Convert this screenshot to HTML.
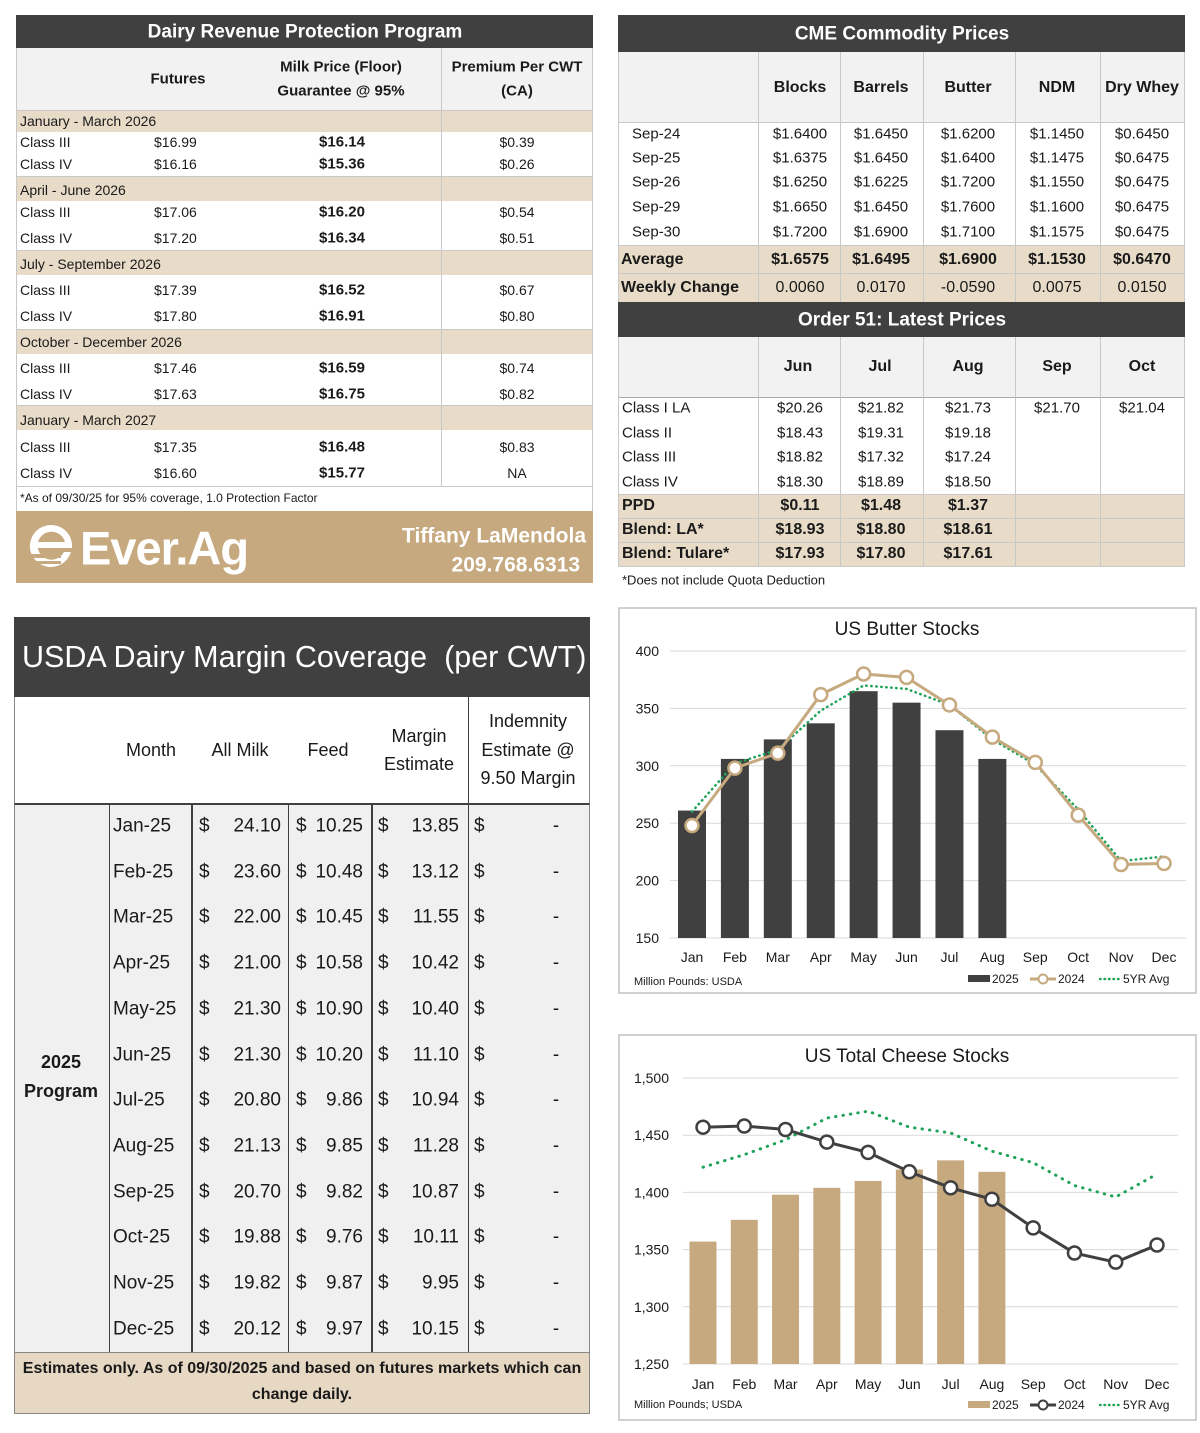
<!DOCTYPE html>
<html><head><meta charset="utf-8">
<style>
*{margin:0;padding:0;box-sizing:border-box}
body{width:1200px;height:1433px;background:#fff;position:relative;font-family:"Liberation Sans",Arial,sans-serif;color:#1a1a1a;overflow:hidden}
.a{position:absolute;white-space:nowrap;line-height:1}
.L{transform:translate(0,-50%)}
.C{transform:translate(-50%,-50%)}
.R{transform:translate(-100%,-50%)}
.box{position:absolute}
.b{font-weight:bold}
.f14{font-size:14px}
.f15{font-size:15px}
.f16{font-size:16px}
.f19{font-size:19px}
.hl{position:absolute;height:1px;background:#c8c8c8}
.vl{position:absolute;width:1px;background:#c8c8c8}
.dk{position:absolute;background:#404040}
</style></head><body>

<!-- ============ DRP PANEL ============ -->
<div>
<div class="box" style="left:16px;top:15px;width:577px;height:33px;background:#404040"></div>
<div class="a C f19 b" style="left:305px;top:32px;color:#fff">Dairy Revenue Protection Program</div>
<div class="box" style="left:16px;top:48px;width:577px;height:62px;background:#f2f2f2"></div>
<div class="a C f15 b" style="left:178px;top:79px">Futures</div>
<div class="a C f15 b" style="left:341px;top:67px">Milk Price (Floor)</div>
<div class="a C f15 b" style="left:341px;top:91px">Guarantee @ 95%</div>
<div class="a C f15 b" style="left:517px;top:67px">Premium Per CWT</div>
<div class="a C f15 b" style="left:517px;top:91px">(CA)</div>

<div class="box" style="left:16px;top:110px;width:577px;height:22px;background:#e8dcc9"></div>
<div class="box" style="left:16px;top:177px;width:577px;height:24px;background:#e8dcc9"></div>
<div class="box" style="left:16px;top:251px;width:577px;height:24px;background:#e8dcc9"></div>
<div class="box" style="left:16px;top:330px;width:577px;height:24px;background:#e8dcc9"></div>
<div class="box" style="left:16px;top:406px;width:577px;height:24px;background:#e8dcc9"></div>
<div class="hl" style="left:16px;top:110px;width:577px"></div>
<div class="hl" style="left:16px;top:176px;width:577px"></div>
<div class="hl" style="left:16px;top:250px;width:577px"></div>
<div class="hl" style="left:16px;top:329px;width:577px"></div>
<div class="hl" style="left:16px;top:405px;width:577px"></div>
<div class="hl" style="left:16px;top:486px;width:577px"></div>
<div class="vl" style="left:441px;top:48px;height:438px"></div>
<div class="vl" style="left:16px;top:48px;height:463px"></div>
<div class="vl" style="left:592px;top:48px;height:463px"></div>

<div class="a L f14" style="left:20px;top:121px">January - March 2026</div>
<div class="a L f14" style="left:20px;top:142px">Class III</div><div class="a L f14" style="left:154px;top:142px">$16.99</div><div class="a C f15 b" style="left:342px;top:142px">$16.14</div><div class="a C f14" style="left:517px;top:142px">$0.39</div>
<div class="a L f14" style="left:20px;top:164px">Class IV</div><div class="a L f14" style="left:154px;top:164px">$16.16</div><div class="a C f15 b" style="left:342px;top:164px">$15.36</div><div class="a C f14" style="left:517px;top:164px">$0.26</div>

<div class="a L f14" style="left:20px;top:190px">April - June 2026</div>
<div class="a L f14" style="left:20px;top:212px">Class III</div><div class="a L f14" style="left:154px;top:212px">$17.06</div><div class="a C f15 b" style="left:342px;top:212px">$16.20</div><div class="a C f14" style="left:517px;top:212px">$0.54</div>
<div class="a L f14" style="left:20px;top:238px">Class IV</div><div class="a L f14" style="left:154px;top:238px">$17.20</div><div class="a C f15 b" style="left:342px;top:238px">$16.34</div><div class="a C f14" style="left:517px;top:238px">$0.51</div>

<div class="a L f14" style="left:20px;top:264px">July - September 2026</div>
<div class="a L f14" style="left:20px;top:290px">Class III</div><div class="a L f14" style="left:154px;top:290px">$17.39</div><div class="a C f15 b" style="left:342px;top:290px">$16.52</div><div class="a C f14" style="left:517px;top:290px">$0.67</div>
<div class="a L f14" style="left:20px;top:316px">Class IV</div><div class="a L f14" style="left:154px;top:316px">$17.80</div><div class="a C f15 b" style="left:342px;top:316px">$16.91</div><div class="a C f14" style="left:517px;top:316px">$0.80</div>

<div class="a L f14" style="left:20px;top:342px">October - December 2026</div>
<div class="a L f14" style="left:20px;top:368px">Class III</div><div class="a L f14" style="left:154px;top:368px">$17.46</div><div class="a C f15 b" style="left:342px;top:368px">$16.59</div><div class="a C f14" style="left:517px;top:368px">$0.74</div>
<div class="a L f14" style="left:20px;top:394px">Class IV</div><div class="a L f14" style="left:154px;top:394px">$17.63</div><div class="a C f15 b" style="left:342px;top:394px">$16.75</div><div class="a C f14" style="left:517px;top:394px">$0.82</div>

<div class="a L f14" style="left:20px;top:420px">January - March 2027</div>
<div class="a L f14" style="left:20px;top:447px">Class III</div><div class="a L f14" style="left:154px;top:447px">$17.35</div><div class="a C f15 b" style="left:342px;top:447px">$16.48</div><div class="a C f14" style="left:517px;top:447px">$0.83</div>
<div class="a L f14" style="left:20px;top:473px">Class IV</div><div class="a L f14" style="left:154px;top:473px">$16.60</div><div class="a C f15 b" style="left:342px;top:473px">$15.77</div><div class="a C f14" style="left:517px;top:473px">NA</div>

<div class="a L" style="left:20px;top:498px;font-size:12px">*As of 09/30/25 for 95% coverage, 1.0 Protection Factor</div>

<div class="box" style="left:16px;top:511px;width:577px;height:72px;background:#c6a97e"></div>
<svg class="box" style="left:27px;top:522px" width="48" height="48" viewBox="0 0 48 48">
<path d="M24 3 A21 21 0 1 0 44 30 L37 30 A14 14 0 1 1 38 20 L10 20 L10 26 L45 26 A21 21 0 0 0 24 3Z" fill="#fff"/>
<rect x="4" y="32" width="30" height="4" fill="#c6a97e"/><rect x="8" y="39" width="26" height="3" fill="#c6a97e"/>
</svg>
<div class="a L b" style="left:80px;top:548px;font-size:47px;color:#fff;letter-spacing:-1px">Ever.Ag</div>
<div class="a R b" style="left:586px;top:536px;font-size:21px;color:#fff">Tiffany LaMendola</div>
<div class="a R b" style="left:580px;top:565px;font-size:21px;color:#fff">209.768.6313</div>
</div>

<!-- ============ CME PANEL ============ -->
<div>
<div class="box" style="left:618px;top:15px;width:567px;height:37px;background:#404040"></div>
<div class="a C f19 b" style="left:902px;top:34px;color:#fff">CME Commodity Prices</div>
<div class="box" style="left:618px;top:52px;width:567px;height:70px;background:#f2f2f2"></div>
<div class="box" style="left:618px;top:245px;width:567px;height:57px;background:#e8dcc9"></div>
<div class="hl" style="left:618px;top:273px;width:567px"></div>
<div class="hl" style="left:618px;top:122px;width:567px"></div>
<div class="hl" style="left:618px;top:245px;width:567px"></div>
<div class="vl" style="left:758px;top:52px;height:250px"></div>
<div class="vl" style="left:840px;top:52px;height:250px"></div>
<div class="vl" style="left:923px;top:52px;height:250px"></div>
<div class="vl" style="left:1015px;top:52px;height:250px"></div>
<div class="vl" style="left:1100px;top:52px;height:250px"></div>
<div class="vl" style="left:618px;top:52px;height:250px"></div>
<div class="vl" style="left:1184px;top:52px;height:250px"></div>

<div class="a C f16 b" style="left:800px;top:88px">Blocks</div>
<div class="a C f16 b" style="left:881px;top:88px">Barrels</div>
<div class="a C f16 b" style="left:968px;top:88px">Butter</div>
<div class="a C f16 b" style="left:1057px;top:88px">NDM</div>
<div class="a C f16 b" style="left:1142px;top:88px">Dry Whey</div>

<div class="a L f15" style="left:632px;top:134px">Sep-24</div><div class="a C f15" style="left:800px;top:134px">$1.6400</div><div class="a C f15" style="left:881px;top:134px">$1.6450</div><div class="a C f15" style="left:968px;top:134px">$1.6200</div><div class="a C f15" style="left:1057px;top:134px">$1.1450</div><div class="a C f15" style="left:1142px;top:134px">$0.6450</div>
<div class="a L f15" style="left:632px;top:158px">Sep-25</div><div class="a C f15" style="left:800px;top:158px">$1.6375</div><div class="a C f15" style="left:881px;top:158px">$1.6450</div><div class="a C f15" style="left:968px;top:158px">$1.6400</div><div class="a C f15" style="left:1057px;top:158px">$1.1475</div><div class="a C f15" style="left:1142px;top:158px">$0.6475</div>
<div class="a L f15" style="left:632px;top:182px">Sep-26</div><div class="a C f15" style="left:800px;top:182px">$1.6250</div><div class="a C f15" style="left:881px;top:182px">$1.6225</div><div class="a C f15" style="left:968px;top:182px">$1.7200</div><div class="a C f15" style="left:1057px;top:182px">$1.1550</div><div class="a C f15" style="left:1142px;top:182px">$0.6475</div>
<div class="a L f15" style="left:632px;top:207px">Sep-29</div><div class="a C f15" style="left:800px;top:207px">$1.6650</div><div class="a C f15" style="left:881px;top:207px">$1.6450</div><div class="a C f15" style="left:968px;top:207px">$1.7600</div><div class="a C f15" style="left:1057px;top:207px">$1.1600</div><div class="a C f15" style="left:1142px;top:207px">$0.6475</div>
<div class="a L f15" style="left:632px;top:232px">Sep-30</div><div class="a C f15" style="left:800px;top:232px">$1.7200</div><div class="a C f15" style="left:881px;top:232px">$1.6900</div><div class="a C f15" style="left:968px;top:232px">$1.7100</div><div class="a C f15" style="left:1057px;top:232px">$1.1575</div><div class="a C f15" style="left:1142px;top:232px">$0.6475</div>
<div class="a L f16 b" style="left:621px;top:260px">Average</div><div class="a C f16 b" style="left:800px;top:260px">$1.6575</div><div class="a C f16 b" style="left:881px;top:260px">$1.6495</div><div class="a C f16 b" style="left:968px;top:260px">$1.6900</div><div class="a C f16 b" style="left:1057px;top:260px">$1.1530</div><div class="a C f16 b" style="left:1142px;top:260px">$0.6470</div>
<div class="a L f16" style="left:621px;top:288px;font-weight:600">Weekly Change</div><div class="a C f16" style="left:800px;top:288px">0.0060</div><div class="a C f16" style="left:881px;top:288px">0.0170</div><div class="a C f16" style="left:968px;top:288px">-0.0590</div><div class="a C f16" style="left:1057px;top:288px">0.0075</div><div class="a C f16" style="left:1142px;top:288px">0.0150</div>

<div class="box" style="left:618px;top:302px;width:567px;height:35px;background:#404040"></div>
<div class="a C f19 b" style="left:902px;top:320px;color:#fff">Order 51: Latest Prices</div>
<div class="box" style="left:618px;top:337px;width:567px;height:60px;background:#f2f2f2"></div>
<div class="hl" style="left:618px;top:397px;width:567px;background:#aaa"></div>
<div class="box" style="left:618px;top:494px;width:567px;height:72px;background:#e8dcc9"></div>
<div class="hl" style="left:618px;top:494px;width:567px"></div>
<div class="hl" style="left:618px;top:518px;width:567px"></div>
<div class="hl" style="left:618px;top:542px;width:567px"></div>
<div class="hl" style="left:618px;top:566px;width:567px"></div>
<div class="vl" style="left:758px;top:337px;height:229px"></div>
<div class="vl" style="left:840px;top:337px;height:229px"></div>
<div class="vl" style="left:923px;top:337px;height:229px"></div>
<div class="vl" style="left:1015px;top:337px;height:229px"></div>
<div class="vl" style="left:1100px;top:337px;height:229px"></div>
<div class="vl" style="left:618px;top:337px;height:229px"></div>
<div class="vl" style="left:1184px;top:337px;height:229px"></div>

<div class="a C f16 b" style="left:798px;top:367px">Jun</div>
<div class="a C f16 b" style="left:880px;top:367px">Jul</div>
<div class="a C f16 b" style="left:968px;top:367px">Aug</div>
<div class="a C f16 b" style="left:1057px;top:367px">Sep</div>
<div class="a C f16 b" style="left:1142px;top:367px">Oct</div>

<div class="a L f15" style="left:622px;top:408px">Class I LA</div><div class="a C f15" style="left:800px;top:408px">$20.26</div><div class="a C f15" style="left:881px;top:408px">$21.82</div><div class="a C f15" style="left:968px;top:408px">$21.73</div><div class="a C f15" style="left:1057px;top:408px">$21.70</div><div class="a C f15" style="left:1142px;top:408px">$21.04</div>
<div class="a L f15" style="left:622px;top:433px">Class II</div><div class="a C f15" style="left:800px;top:433px">$18.43</div><div class="a C f15" style="left:881px;top:433px">$19.31</div><div class="a C f15" style="left:968px;top:433px">$19.18</div>
<div class="a L f15" style="left:622px;top:457px">Class III</div><div class="a C f15" style="left:800px;top:457px">$18.82</div><div class="a C f15" style="left:881px;top:457px">$17.32</div><div class="a C f15" style="left:968px;top:457px">$17.24</div>
<div class="a L f15" style="left:622px;top:482px">Class IV</div><div class="a C f15" style="left:800px;top:482px">$18.30</div><div class="a C f15" style="left:881px;top:482px">$18.89</div><div class="a C f15" style="left:968px;top:482px">$18.50</div>
<div class="a L f16 b" style="left:622px;top:506px">PPD</div><div class="a C f16 b" style="left:800px;top:506px">$0.11</div><div class="a C f16 b" style="left:881px;top:506px">$1.48</div><div class="a C f16 b" style="left:968px;top:506px">$1.37</div>
<div class="a L f16 b" style="left:622px;top:530px">Blend: LA*</div><div class="a C f16 b" style="left:800px;top:530px">$18.93</div><div class="a C f16 b" style="left:881px;top:530px">$18.80</div><div class="a C f16 b" style="left:968px;top:530px">$18.61</div>
<div class="a L f16 b" style="left:622px;top:554px">Blend: Tulare*</div><div class="a C f16 b" style="left:800px;top:554px">$17.93</div><div class="a C f16 b" style="left:881px;top:554px">$17.80</div><div class="a C f16 b" style="left:968px;top:554px">$17.61</div>
<div class="a L" style="left:622px;top:580px;font-size:13px">*Does not include Quota Deduction</div>
</div>

<!-- ============ MARGIN COVERAGE ============ -->
<div>
<div class="box" style="left:14px;top:617px;width:576px;height:80px;background:#404040"></div>
<div class="a L" style="left:22px;top:657px;font-size:30.5px;color:#fff;font-weight:500">USDA Dairy Margin Coverage&nbsp; (per CWT)</div>
<div class="box" style="left:14px;top:697px;width:576px;height:106px;background:#fff;border-left:1px solid #888;border-right:1px solid #888"></div>
<div class="dk" style="left:468px;top:697px;width:1px;height:106px"></div>
<div class="a C" style="left:151px;top:750px;font-size:18px">Month</div>
<div class="a C" style="left:240px;top:750px;font-size:18px">All Milk</div>
<div class="a C" style="left:328px;top:750px;font-size:18px">Feed</div>
<div class="a C" style="left:419px;top:736px;font-size:18px">Margin</div>
<div class="a C" style="left:419px;top:764px;font-size:18px">Estimate</div>
<div class="a C" style="left:528px;top:721px;font-size:18px">Indemnity</div>
<div class="a C" style="left:528px;top:750px;font-size:18px">Estimate @</div>
<div class="a C" style="left:528px;top:778px;font-size:18px">9.50 Margin</div>
<div class="box" style="left:14px;top:803px;width:576px;height:549px;background:#f0f0f0;border-left:1px solid #888;border-right:1px solid #888;border-top:2px solid #404040"></div>
<div class="dk" style="left:109px;top:803px;width:1px;height:549px"></div>
<div class="dk" style="left:191px;top:803px;width:2px;height:549px"></div>
<div class="dk" style="left:288px;top:803px;width:1px;height:549px"></div>
<div class="dk" style="left:371px;top:803px;width:2px;height:549px"></div>
<div class="dk" style="left:468px;top:803px;width:1px;height:549px"></div>
<div class="a C b" style="left:61px;top:1062px;font-size:18px">2025</div>
<div class="a C b" style="left:61px;top:1091px;font-size:18px">Program</div>
<div id="mrows"></div>
<div class="box" style="left:14px;top:1352px;width:576px;height:62px;background:#e6d8c3;border:1px solid #888"></div>
<div class="a C b" style="left:302px;top:1369px;font-size:16px">Estimates only. As of 09/30/2025 and based on futures markets which can</div>
<div class="a C b" style="left:302px;top:1395px;font-size:16px">change daily.</div>
</div>

<!-- ============ CHARTS ============ -->
<svg id="charts" class="box" style="left:0;top:0" width="1200" height="1433" font-family="Liberation Sans, Arial, sans-serif"></svg>

<script>
const marginMonths=["Jan-25","Feb-25","Mar-25","Apr-25","May-25","Jun-25","Jul-25","Aug-25","Sep-25","Oct-25","Nov-25","Dec-25"];
const allMilk=["24.10","23.60","22.00","21.00","21.30","21.30","20.80","21.13","20.70","19.88","19.82","20.12"];
const feed=["10.25","10.48","10.45","10.58","10.90","10.20","9.86","9.85","9.82","9.76","9.87","9.97"];
const marginEst=["13.85","13.12","11.55","10.42","10.40","11.10","10.94","11.28","10.87","10.11","9.95","10.15"];

const months=["Jan","Feb","Mar","Apr","May","Jun","Jul","Aug","Sep","Oct","Nov","Dec"];
const butter2025=[261,306,323,337,365,355,331,306];
const butter2024=[248,298,311,362,380,377,353,325,303,257,214,215];
const butter5yr=[260,302,314,348,370,367,353,323,301,262,217,221];
const butterTicks=[150,200,250,300,350,400];
const cheese2025=[1357,1376,1398,1404,1410,1420,1428,1418];
const cheese2024=[1457,1458,1455,1444,1435,1418,1404,1394,1369,1347,1339,1354];
const cheese5yr=[1422,1433,1446,1465,1471,1457,1452,1436,1426,1406,1396,1416];
const cheeseTicks=[1250,1300,1350,1400,1450,1500];

const mr=document.getElementById('mrows');
function txt(parent,cls,x,y,s,name){
  const d=document.createElement('div');
  d.className='a '+cls;
  d.style.left=x+'px';d.style.top=y+'px';d.style.fontSize='19px';
  d.textContent=s;
  
  
  parent.appendChild(d);
}
marginMonths.forEach((m,i)=>{
  const y=826+i*45.7;
  txt(mr,'L',113,y,m,'month-cell');
  txt(mr,'L',199,y,'$','dollar-sign');
  txt(mr,'R',281,y,allMilk[i],'all-milk-cell');
  txt(mr,'L',296,y,'$','dollar-sign');
  txt(mr,'R',363,y,feed[i],'feed-cell');
  txt(mr,'L',378,y,'$','dollar-sign');
  txt(mr,'R',459,y,marginEst[i],'margin-cell');
  txt(mr,'L',474,y,'$','dollar-sign');
  txt(mr,'C',556,y,'-','indemnity-cell');
});

const svg=document.getElementById('charts');
const NS='http://www.w3.org/2000/svg';
function mk(tag,attrs,parent){const e=document.createElementNS(NS,tag);for(const k in attrs)e.setAttribute(k,attrs[k]);(parent||svg).appendChild(e);return e;}

function chart(cfg){
  const g=mk('g',{});
  
  
  const fr=mk('rect',{x:cfg.bx,y:cfg.by,width:577,height:385,fill:'#fff',stroke:'#c0c0c0','stroke-width':1.5},g);
  
  
  const t=mk('text',{x:cfg.bx+288,y:cfg.by+27,'text-anchor':'middle','font-size':19,fill:'#1a1a1a'},g);
  t.textContent=cfg.title;
  
  
  const ymin=cfg.ticks[0],ymax=cfg.ticks[cfg.ticks.length-1];
  const Y=v=>cfg.y0+(v-ymin)/(ymax-ymin)*(cfg.y1-cfg.y0);
  const X=i=>cfg.x0+i*(cfg.x1-cfg.x0)/(months.length-1);
  cfg.ticks.forEach(v=>{
    const l=mk('line',{x1:cfg.gx0,x2:cfg.gx1,y1:Y(v),y2:Y(v),stroke:'#d9d9d9','stroke-width':1},g);
    
    
    const tt=mk('text',{x:cfg.lx,y:Y(v)+5,'text-anchor':'end','font-size':14,fill:'#1a1a1a'},g);
    tt.textContent=cfg.fmt(v);
    
    
  });
  cfg.bars.forEach((v,i)=>{
    const r=mk('rect',{x:X(i)-cfg.bw/2,y:Y(v),width:cfg.bw,height:Y(ymin)-Y(v),fill:cfg.barColor},g);
    
    
  });
  const avg=mk('polyline',{points:cfg.avg.map((v,i)=>X(i)+','+Y(v)).join(' '),fill:'none',stroke:'#21a35a','stroke-width':cfg.dotW,'stroke-dasharray':cfg.dash,'stroke-linecap':'round'},g);
  
  
  const ln=mk('polyline',{points:cfg.prev.map((v,i)=>X(i)+','+Y(v)).join(' '),fill:'none',stroke:cfg.lineColor,'stroke-width':3},g);
  
  
  cfg.prev.forEach((v,i)=>{
    const c=mk('circle',{cx:X(i),cy:Y(v),r:6.5,fill:'#fff',stroke:cfg.lineColor,'stroke-width':2.5},g);
    
    
  });
  months.forEach((m,i)=>{
    const tt=mk('text',{x:X(i),y:cfg.mly,'text-anchor':'middle','font-size':14,fill:'#1a1a1a'},g);
    tt.textContent=m;
    
    
  });
  const src=mk('text',{x:cfg.bx+15,y:cfg.srcY,'font-size':11,fill:'#1a1a1a'},g);
  src.textContent=cfg.src;
  
  
  const ly=cfg.legY;
  const lr=mk('rect',{x:cfg.legX,y:ly-4,width:22,height:7,fill:cfg.barColor},g);
  
  
  const l1=mk('text',{x:cfg.legX+24,y:ly+4,'font-size':12,fill:'#1a1a1a'},g);l1.textContent='2025';
  
  
  const ll=mk('line',{x1:cfg.legX+62,x2:cfg.legX+88,y1:ly,y2:ly,stroke:cfg.lineColor,'stroke-width':3},g);
  
  
  const lc=mk('circle',{cx:cfg.legX+75,cy:ly,r:4.5,fill:'#fff',stroke:cfg.lineColor,'stroke-width':2},g);
  
  
  const l2=mk('text',{x:cfg.legX+90,y:ly+4,'font-size':12,fill:'#1a1a1a'},g);l2.textContent='2024';
  
  
  const ld=mk('line',{x1:cfg.legX+132,x2:cfg.legX+152,y1:ly,y2:ly,stroke:'#21a35a','stroke-width':2.5,'stroke-dasharray':'0.5 4','stroke-linecap':'round'},g);
  
  
  const l3=mk('text',{x:cfg.legX+155,y:ly+4,'font-size':12,fill:'#1a1a1a'},g);l3.textContent='5YR Avg';
  
  
}

chart({name:'butter-stocks-chart',title:'US Butter Stocks',bx:619,by:608,ticks:butterTicks,y0:938,y1:651,x0:692,x1:1164,gx0:670,gx1:1186,lx:659,bw:28,
  bars:butter2025,prev:butter2024,avg:butter5yr,barColor:'#404040',lineColor:'#c6a97e',dotW:2.5,dash:'0.5 4.5',
  fmt:v=>String(v),mly:962,src:'Million Pounds: USDA',srcY:985,legX:968,legY:979});
chart({name:'cheese-stocks-chart',title:'US Total Cheese Stocks',bx:619,by:1035,ticks:cheeseTicks,y0:1364,y1:1078,x0:703,x1:1157,gx0:683,gx1:1178,lx:669,bw:27,
  bars:cheese2025,prev:cheese2024,avg:cheese5yr,barColor:'#c6a97e',lineColor:'#404040',dotW:3,dash:'0.5 7',
  fmt:v=>v.toLocaleString('en-US'),mly:1389,src:'Million Pounds; USDA',srcY:1408,legX:968,legY:1405});
</script>
</body></html>
